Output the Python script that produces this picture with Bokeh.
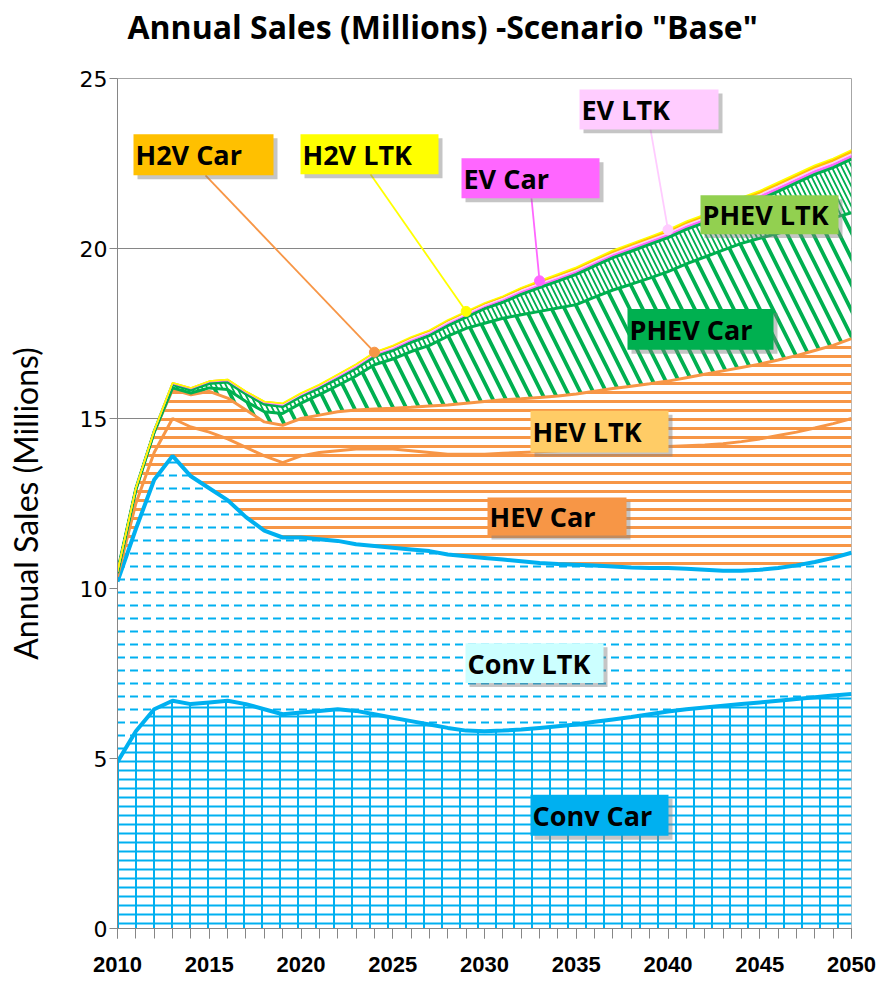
import numpy as np
from bokeh.plotting import figure
from bokeh.models import Range1d, SingleIntervalTicker, Label, BoxAnnotation, Title
from bokeh.embed import file_html
from bokeh.resources import INLINE

# ---------------- data (millions of vehicles sold per year) ----------------
years = list(range(2010, 2051))

conv_car = [4.9, 5.8, 6.45, 6.7, 6.6, 6.65, 6.7, 6.6, 6.45, 6.3, 6.35, 6.4, 6.45, 6.4, 6.3,
            6.2, 6.1, 6.0, 5.9, 5.82, 5.8, 5.82, 5.85, 5.9, 5.95, 6.0, 6.08, 6.15, 6.22, 6.3,
            6.38, 6.45, 6.5, 6.55, 6.6, 6.65, 6.7, 6.75, 6.8, 6.85, 6.9]
conv_ltk = [5.3, 5.95, 6.75, 7.2, 6.7, 6.3, 5.9, 5.5, 5.25, 5.2, 5.15, 5.05, 4.95, 4.9, 4.95,
            5.0, 5.05, 5.1, 5.1, 5.13, 5.1, 5.03, 4.95, 4.85, 4.77, 4.7, 4.6, 4.5, 4.4, 4.3,
            4.22, 4.13, 4.05, 3.97, 3.92, 3.9, 3.9, 3.93, 3.98, 4.05, 4.15]
hev_car = [0.15, 0.75, 0.8, 1.1, 1.45, 1.65, 1.8, 2.05, 2.2, 2.2, 2.4, 2.55, 2.65, 2.8, 2.85,
           2.9, 2.9, 2.9, 2.95, 3.0, 3.05, 3.13, 3.2, 3.27, 3.33, 3.38, 3.42, 3.47, 3.52, 3.56,
           3.58, 3.62, 3.67, 3.74, 3.8, 3.85, 3.9, 3.92, 3.94, 3.95, 3.95]
hev_ltk = [0.1, 0.4, 0.6, 0.85, 0.95, 1.2, 1.2, 1.1, 1.0, 1.1, 1.1, 1.1, 1.15, 1.15, 1.18,
           1.2, 1.28, 1.37, 1.45, 1.5, 1.55, 1.57, 1.58, 1.6, 1.61, 1.64, 1.7, 1.76, 1.81, 1.86,
           1.92, 2.0, 2.08, 2.14, 2.18, 2.2, 2.22, 2.25, 2.28, 2.3, 2.35]
phev_car = [0.0, 0.0, 0.0, 0.05, 0.05, 0.1, 0.25, 0.25, 0.3, 0.35, 0.45, 0.6, 0.77, 1.0, 1.3,
            1.45, 1.64, 1.78, 2.02, 2.2, 2.3, 2.4, 2.47, 2.53, 2.59, 2.63, 2.77, 2.9, 3.0, 3.11,
            3.22, 3.35, 3.45, 3.55, 3.65, 3.7, 3.73, 3.75, 3.75, 3.75, 3.7]
phev_ltk = [0.05, 0.04, 0.02, 0.1, 0.09, 0.13, 0.22, 0.22, 0.22, 0.2, 0.2, 0.19, 0.2, 0.22, 0.24,
            0.25, 0.27, 0.29, 0.31, 0.33, 0.43, 0.47, 0.6, 0.7, 0.79, 0.89, 0.92, 0.95, 0.97, 0.99,
            1.0, 1.01, 1.01, 1.05, 1.09, 1.14, 1.23, 1.33, 1.43, 1.48, 1.58]
ev_car = [0.0, 0.01, 0.02, 0.03, 0.04, 0.05, 0.05, 0.05, 0.05, 0.05, 0.05, 0.06, 0.06, 0.06, 0.06,
          0.06, 0.07, 0.07, 0.07, 0.07, 0.07, 0.07, 0.08, 0.08, 0.08, 0.08, 0.08, 0.08, 0.09, 0.09,
          0.09, 0.09, 0.09, 0.09, 0.1, 0.1, 0.1, 0.1, 0.1, 0.1, 0.1]
ev_ltk = [0.0, 0.0, 0.01, 0.02, 0.02, 0.02, 0.02, 0.02, 0.02, 0.02, 0.02, 0.02, 0.03, 0.03, 0.03,
          0.03, 0.03, 0.03, 0.03, 0.03, 0.03, 0.04, 0.04, 0.04, 0.04, 0.04, 0.04, 0.04, 0.04, 0.04,
          0.04, 0.05, 0.05, 0.05, 0.05, 0.05, 0.05, 0.05, 0.05, 0.05, 0.05]
h2v_car = [0.0, 0.0, 0.0, 0.0, 0.0, 0.0, 0.01, 0.01, 0.01, 0.02, 0.02, 0.02, 0.03, 0.03, 0.03,
           0.04, 0.04, 0.04, 0.05, 0.05, 0.05, 0.05, 0.06, 0.06, 0.06, 0.06, 0.06, 0.07, 0.07, 0.07,
           0.07, 0.07, 0.07, 0.08, 0.08, 0.08, 0.08, 0.08, 0.08, 0.08, 0.08]
h2v_ltk = [0.0, 0.0, 0.0, 0.0, 0.0, 0.0, 0.0, 0.0, 0.0, 0.01, 0.01, 0.01, 0.01, 0.01, 0.01,
           0.02, 0.02, 0.02, 0.02, 0.02, 0.02, 0.02, 0.02, 0.02, 0.03, 0.03, 0.03, 0.03, 0.03, 0.03,
           0.03, 0.03, 0.03, 0.03, 0.03, 0.03, 0.04, 0.04, 0.04, 0.04, 0.04]

series_names = ["Conv Car", "Conv LTK", "HEV Car", "HEV LTK", "PHEV Car",
                "PHEV LTK", "EV Car", "EV LTK", "H2V Car", "H2V LTK"]
series_values = [conv_car, conv_ltk, hev_car, hev_ltk, phev_car,
                 phev_ltk, ev_car, ev_ltk, h2v_car, h2v_ltk]
pointer_years = {"H2V Car": 2024, "H2V LTK": 2029, "EV Car": 2033, "EV LTK": 2040}

x_ticks_interval = 5
y_ticks = [0, 5, 10, 15, 20, 25]
title_text = 'Annual Sales (Millions) -Scenario "Base"'
y_title = "Annual Sales (Millions)"

# ---------------- styles ----------------
BLUE, ORANGE, GREEN = "#00B0F0", "#F79646", "#00B050"

# each series: list of (fill, hatch pattern, scale, weight, colour) layers
area_layers = [
    [("white", "horizontal_line", 9, 2, BLUE), (None, "vertical_line", 18, 2, BLUE)],
    [("white", "horizontal_dash", 13, 2, BLUE)],
    [("white", "horizontal_line", 9, 3, ORANGE)],
    [("white", "horizontal_line", 9, 3, ORANGE)],
    [("white", "left_diagonal_line", 26, 3.8, GREEN)],
    [("white", "left_diagonal_line", 10, 1.8, GREEN)],
    [("#FF66FF", None, 12, 1, None)],
    [("#FFCCFF", None, 12, 1, None)],
    [("#FFC000", None, 12, 1, None)],
    [("#FFFF00", None, 12, 1, None)],
]
line_styles = [(BLUE, 4), (BLUE, 4), (ORANGE, 3), (ORANGE, 3), (GREEN, 3), (GREEN, 3),
               ("#FF66FF", 1.5), ("#FFCCFF", 1.5), ("#FFC000", 1.5), ("#FFFF00", 1.5)]

# canvas-pixel geometry of the plot frame
FX0, FX1, FY0, FY1 = 117, 851, 928, 76
FIG_W, FIG_H = 884, 984


def dx(px):
    return 2010 + (px - FX0) / (FX1 - FX0) * 40


def dy(py):
    return (FY0 - py) / (FY0 - FY1) * 25


p = figure(width=FIG_W, height=FIG_H, output_backend="svg", toolbar_location=None,
           x_range=Range1d(2010, 2050), y_range=Range1d(0, 25), title=None)
p.min_border_left = FX0
p.min_border_right = FIG_W - FX1
p.min_border_top = FY1
p.min_border_bottom = FIG_H - FY0
p.background_fill_color = "white"
p.border_fill_color = "white"
p.outline_line_color = "#A6A6A6"
p.xgrid.grid_line_color = None
p.ygrid.grid_line_color = "#868686"
p.ygrid.ticker = y_ticks

# title (a spacer keeps it clear of the frame)
p.add_layout(Title(text=" ", text_font_size="1px", standoff=26), "above")
p.add_layout(Title(text=title_text, align="left", offset=10, text_font="Open Sans",
                   text_font_style="bold", text_font_size="32px", text_color="black",
                   standoff=4), "above")

stack = np.cumsum(np.array(series_values, dtype=float), axis=0)
base = np.zeros(len(years))
for i, name in enumerate(series_names):
    for fill, pat, sc, wt, hc in area_layers[i]:
        kw = dict(fill_color=fill)
        if pat is not None:
            kw.update(hatch_pattern=pat, hatch_scale=sc, hatch_weight=wt, hatch_color=hc)
        p.varea(x=years, y1=base, y2=stack[i], **kw)
    base = stack[i]
for i, name in enumerate(series_names):
    c, w = line_styles[i]
    p.line(years, stack[i], line_color=c, line_width=w)

top = stack[-1]

# axes
ax = p.xaxis[0]
ax.ticker = SingleIntervalTicker(interval=x_ticks_interval, num_minor_ticks=5)
ax.axis_line_color = "#868686"
ax.major_tick_line_color = "#868686"
ax.minor_tick_line_color = "#868686"
ax.major_tick_in = 0
ax.major_tick_out = 10
ax.minor_tick_in = 0
ax.minor_tick_out = 10
ax.major_label_standoff = 18
ax.major_label_text_font = "Liberation Sans"
ax.major_label_text_font_style = "bold"
ax.major_label_text_font_size = "22px"
ax.major_label_text_color = "black"

ay = p.yaxis[0]
ay.ticker = y_ticks
ay.axis_line_color = "#868686"
ay.major_tick_line_color = "#868686"
ay.minor_tick_line_color = None
ay.major_tick_in = 0
ay.major_tick_out = 8
ay.major_label_standoff = 2
ay.major_label_text_font = "DejaVu Sans"
ay.major_label_text_font_size = "22px"
ay.major_label_text_color = "black"
ay.axis_label = y_title
ay.axis_label_text_font = "Lato"
ay.axis_label_text_font_style = "normal"
ay.axis_label_text_font_size = "32px"
ay.axis_label_text_color = "black"
ay.axis_label_standoff = 32

# leader lines to the thin top series
leaders = [("H2V Car", 205, 173, ORANGE), ("H2V LTK", 370, 172, "#FFFF00"),
           ("EV Car", 531, 196, "#FF66FF"), ("EV LTK", 650, 127, "#FFCCFF")]
for name, sx, sy, col in leaders:
    yr = pointer_years[name]
    yv = top[years.index(yr)]
    p.segment(x0=[dx(sx)], y0=[dy(sy)], x1=[yr], y1=[yv], line_color=col, line_width=1.8)
    p.scatter(x=[yr], y=[yv], size=10, fill_color=col, line_color=col)

# label boxes
boxes = [
    ("H2V Car", 133, 132, 273, 173, "#FFC000"),
    ("H2V LTK", 300, 132, 438, 172, "#FFFF00"),
    ("EV Car", 461, 156, 599, 196, "#FF66FF"),
    ("EV LTK", 579, 87, 718, 127, "#FFCCFF"),
    ("PHEV LTK", 700, 193, 838, 232, "#92D050"),
    ("PHEV Car", 627, 307, 773, 348, "#00B050"),
    ("HEV LTK", 530, 409, 668, 451, "#FFCC66"),
    ("HEV Car", 487, 496, 626, 534, "#F79646"),
    ("Conv LTK", 465, 642, 603, 682, "#CCFFFF"),
    ("Conv Car", 530, 794, 668, 835, "#00B0F0"),
]
for text, l, t, r, b, col in boxes:
    p.add_layout(BoxAnnotation(left=dx(l + 4), right=dx(r + 4), top=dy(t + 4), bottom=dy(b + 4),
                               fill_color="#7F7F7F", fill_alpha=0.45, line_color=None, level="annotation"))
    p.add_layout(BoxAnnotation(left=dx(l), right=dx(r), top=dy(t), bottom=dy(b),
                               fill_color=col, fill_alpha=1.0, line_color=None, level="annotation"))
    p.add_layout(Label(x=dx(l + 2), y=dy((t + b) / 2), text=text, text_align="left",
                       text_baseline="middle", text_font="Open Sans", text_font_style="bold",
                       text_font_size="27px", text_color="black"))

open("out.html", "w").write(file_html(p, INLINE))
